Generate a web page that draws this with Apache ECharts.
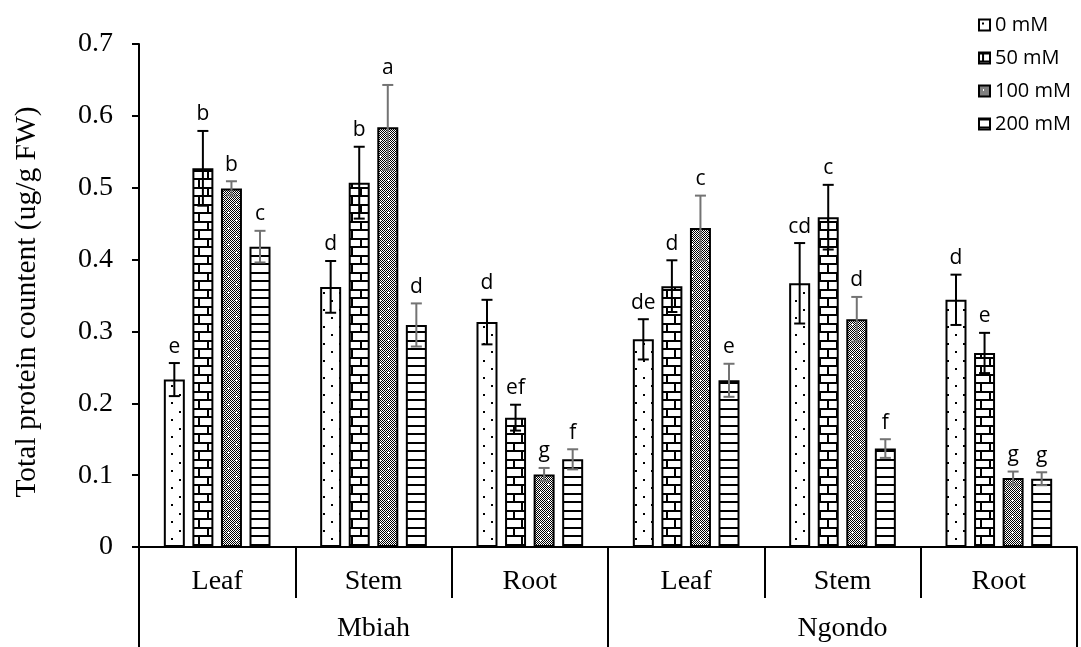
<!DOCTYPE html>
<html>
<head>
<meta charset="utf-8">
<script src="https://cdn.jsdelivr.net/npm/echarts@6/dist/echarts.min.js"></script>
<style>
  html, body { margin: 0; padding: 0; background: #fff; }
  #chart { width: 1081px; height: 647px; }
</style>
</head>
<body>
<div id="chart"></div>
<script>
// Organs within each cultivar, and the cultivars spanning them
const organs = ['Leaf', 'Stem', 'Root', 'Leaf', 'Stem', 'Root'];
const cultivars = ['Mbiah', 'Ngondo'];
const treatments = ['0 mM', '50 mM', '100 mM', '200 mM'];
const yTicks = [0, 0.1, 0.2, 0.3, 0.4, 0.5, 0.6, 0.7];

// Mean total protein (ug/g FW), standard error and significance letters
const mean0   = [0.233, 0.362, 0.313, 0.289, 0.367, 0.344];
const err0    = [0.023, 0.036, 0.031, 0.028, 0.056, 0.035];
const letters0 = ['e', 'd', 'd', 'de', 'cd', 'd'];

const mean50  = [0.527, 0.507, 0.180, 0.363, 0.459, 0.270];
const err50   = [0.052, 0.050, 0.018, 0.036, 0.045, 0.028];
const letters50 = ['b', 'b', 'ef', 'd', 'c', 'e'];

const mean100 = [0.499, 0.584, 0.101, 0.444, 0.317, 0.096];
const err100  = [0.010, 0.059, 0.009, 0.045, 0.031, 0.009];
const letters100 = ['b', 'a', 'g', 'c', 'd', 'g'];

const mean200 = [0.418, 0.309, 0.122, 0.232, 0.137, 0.095];
const err200  = [0.022, 0.030, 0.014, 0.023, 0.013, 0.009];
const letters200 = ['c', 'd', 'f', 'e', 'f', 'g'];

const means = [mean0, mean50, mean100, mean200];
const errs = [err0, err50, err100, err200];
const letters = [letters0, letters50, letters100, letters200];

// ---- fill patterns for the bars ----
function tile(w, h, draw) {
  const c = document.createElement('canvas');
  c.width = w; c.height = h;
  const g = c.getContext('2d');
  g.fillStyle = '#fff';
  g.fillRect(0, 0, w, h);
  g.fillStyle = '#000';
  draw(g);
  return c;
}
const dotTile = tile(16, 17, g => {
  g.fillRect(3, 3, 2, 2);
  g.fillRect(11, 11, 2, 2);
});
const brickTile = tile(17, 17, g => {
  g.fillRect(0, 0, 17, 2);
  g.fillRect(0, 8, 17, 2);
  g.fillRect(3, 2, 2, 6);
  g.fillRect(11, 10, 2, 7);
});
const checkTile = tile(16, 16, g => {
  for (let y = 0; y < 16; y++) {
    for (let x = 0; x < 16; x++) {
      if ((x + y) % 2 === 0) g.fillRect(x, y, 1, 1);
    }
  }
  g.fillStyle = '#fff';
  [[4, 4], [12, 12]].forEach(([cx, cy]) => {
    g.fillRect(cx - 1, cy, 3, 1);
    g.fillRect(cx, cy - 1, 1, 3);
  });
});
const lineTile = tile(4, 17, g => {
  g.fillRect(0, 0, 4, 2);
  g.fillRect(0, 8, 4, 2);
});
const fills = [dotTile, brickTile, checkTile, lineTile].map(c => ({ image: c, repeat: 'repeat' }));
const errColors = ['#000000', '#000000', '#737373', '#737373'];

const BAR_W = 21;
const BAR_GAP = 0.36;
const totalW = 4 * BAR_W + 3 * BAR_W * BAR_GAP;

const serif = 'Liberation Serif';
const sans = 'Open Sans';

const barSeries = treatments.map((name, i) => ({
  name: name,
  type: 'bar',
  xAxisIndex: 0,
  barWidth: BAR_W,
  barGap: (BAR_GAP * 100) + '%',
  data: means[i],
  itemStyle: { color: fills[i], borderColor: '#000', borderWidth: 2 },
  z: 2
}));

// Error bars with letters, placed over the matching bar
const errSeries = treatments.map((name, i) => ({
  name: 'err-' + name,
  type: 'custom',
  xAxisIndex: 0,
  z: 5,
  silent: true,
  data: means[i].map((m, k) => [k, m, errs[i][k]]),
  encode: { x: 0, y: 1 },
  renderItem: function (params, api) {
    const k = api.value(0), m = api.value(1), e = api.value(2);
    const dx = -totalW / 2 + i * BAR_W * (1 + BAR_GAP) + BAR_W / 2;
    const top = api.coord([k, m + e]);
    const bot = api.coord([k, m - e]);
    const x = top[0] + dx;
    const cap = 5.5;
    const st = { stroke: errColors[i], lineWidth: 2 };
    return {
      type: 'group',
      children: [
        { type: 'line', shape: { x1: x, y1: top[1], x2: x, y2: bot[1] }, style: st },
        { type: 'line', shape: { x1: x - cap, y1: top[1], x2: x + cap, y2: top[1] }, style: st },
        { type: 'line', shape: { x1: x - cap, y1: bot[1], x2: x + cap, y2: bot[1] }, style: st },
        {
          type: 'text',
          style: {
            x: x, y: top[1] - 6,
            text: letters[i][params.dataIndex],
            align: 'center', verticalAlign: 'bottom',
            fontFamily: sans, fontSize: 21, fill: '#000'
          }
        }
      ]
    };
  }
}));

const chart = echarts.init(document.getElementById('chart'), null, { renderer: 'canvas' });
chart.setOption({
  animation: false,
  backgroundColor: '#fff',
  grid: { left: 139, right: 4, top: 44, bottom: 100, outerBoundsMode: 'none' },
  legend: {
    data: treatments,
    orient: 'vertical',
    left: 973,
    top: 10,
    itemWidth: 11,
    itemHeight: 11,
    itemGap: 13,
    icon: 'rect',
    textStyle: { fontFamily: sans, fontSize: 20, color: '#000' }
  },
  xAxis: [
    {
      type: 'category',
      data: organs,
      position: 'bottom',
      axisLine: { lineStyle: { color: '#000', width: 2 } },
      axisTick: { show: true, length: 51, lineStyle: { color: '#000', width: 2 } },
      axisLabel: { fontFamily: serif, fontSize: 28, color: '#000', margin: 21 }
    },
    {
      type: 'category',
      data: cultivars,
      position: 'bottom',
      axisLine: { show: false },
      axisTick: { show: true, length: 100, lineStyle: { color: '#000', width: 2 } },
      axisLabel: { fontFamily: serif, fontSize: 28, color: '#000', margin: 68 }
    }
  ],
  yAxis: {
    type: 'value',
    min: yTicks[0],
    max: yTicks[yTicks.length - 1],
    interval: 0.1,
    splitLine: { show: false },
    axisLine: { show: true, lineStyle: { color: '#000', width: 2 } },
    axisTick: { show: true, length: 7, lineStyle: { color: '#000', width: 2 } },
    axisLabel: {
      fontFamily: serif, fontSize: 28, color: '#000', margin: 26,
      formatter: v => (v === 0 ? '0' : v.toFixed(1))
    },
    name: 'Total protein countent (ug/g FW)',
    nameLocation: 'middle',
    nameGap: 97,
    nameTextStyle: { fontFamily: serif, fontSize: 29.5, color: '#000', padding: [0, 13, 0, 0] }
  },
  series: [...barSeries, ...errSeries]
});
</script>
</body>
</html>
